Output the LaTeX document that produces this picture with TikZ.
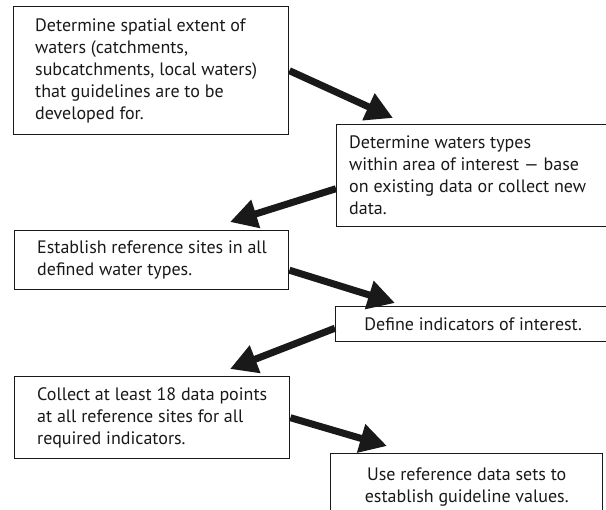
\documentclass[tikz,border=0pt]{standalone}
\usepackage{fontspec}
\setmainfont{PT Sans}
\usetikzlibrary{arrows.meta}

\tikzset{
    stagebox/.style={draw=black!90, line width=1.4bp, anchor=north west, inner sep=0pt,
        font=\fontsize{18bp}{22bp}\selectfont, text=black!90},
    stagetext/.style={anchor=west, align=left, inner sep=0pt,
        font=\fontsize{18bp}{22bp}\selectfont, text=black!90},
    flowarrow/.style={line width=7bp, draw=black!90, -{Triangle[length=27bp, width=28bp]}}
}

\begin{document}
\begin{tikzpicture}[x=1bp, y=-1bp]
        \useasboundingbox (0, 0) rectangle (606, 510);

        \node[stagebox, minimum width=275bp, minimum height=128bp] (define) at (13, 6) {};
        \node[stagebox, minimum width=280bp, minimum height=102bp] (types) at (336, 124) {};
        \node[stagebox, minimum width=274bp, minimum height=59bp] (sites) at (14, 230) {};
        \node[stagebox, minimum width=275bp, minimum height=35bp] (indicators) at (335, 306)
            {Define indicators of interest.};
        \node[stagebox, minimum width=275bp, minimum height=82bp] (collect) at (14, 376) {};
        \node[stagebox, minimum width=272bp, minimum height=66bp, align=center] (guideline) at (330, 453)
            {Use reference data sets to\\ establish guideline values.};

        \node[stagetext] (definetext) at ([xshift=22bp]define.west)
            {Determine spatial extent of\\ waters (catchments,\\ subcatchments, local waters)\\ that guidelines are to be\\ developed for.};
        \node[stagetext] (typestext) at ([xshift=13bp]types.west)
            {Determine waters types\\ within area of interest — base\\ on existing data or collect new\\ data.};
        \node[stagetext] (sitestext) at ([xshift=23bp]sites.west)
            {Establish reference sites in all\\ defined water types.};
        \node[stagetext] (collecttext) at ([xshift=23bp]collect.west)
            {Collect at least 18 data points\\ at all reference sites for all\\ required indicators.};

        \coordinate (tip1) at (393, 118);
        \coordinate (tip2) at (230, 222);
        \coordinate (tip3) at (395, 303);
        \coordinate (tip4) at (230, 369);
        \coordinate (tip5) at (387, 446);

        \draw[flowarrow] (define.east) -- (tip1);
        \draw[flowarrow] ([yshift=-13bp]types.west) -- (tip2);
        \draw[flowarrow] ([yshift=-10bp]sites.east) -- (tip3);
        \draw[flowarrow] ([yshift=-4bp]indicators.west) -- (tip4);
        \draw[flowarrow] (collect.east) -- (tip5);
    \end{tikzpicture}
\end{document}
